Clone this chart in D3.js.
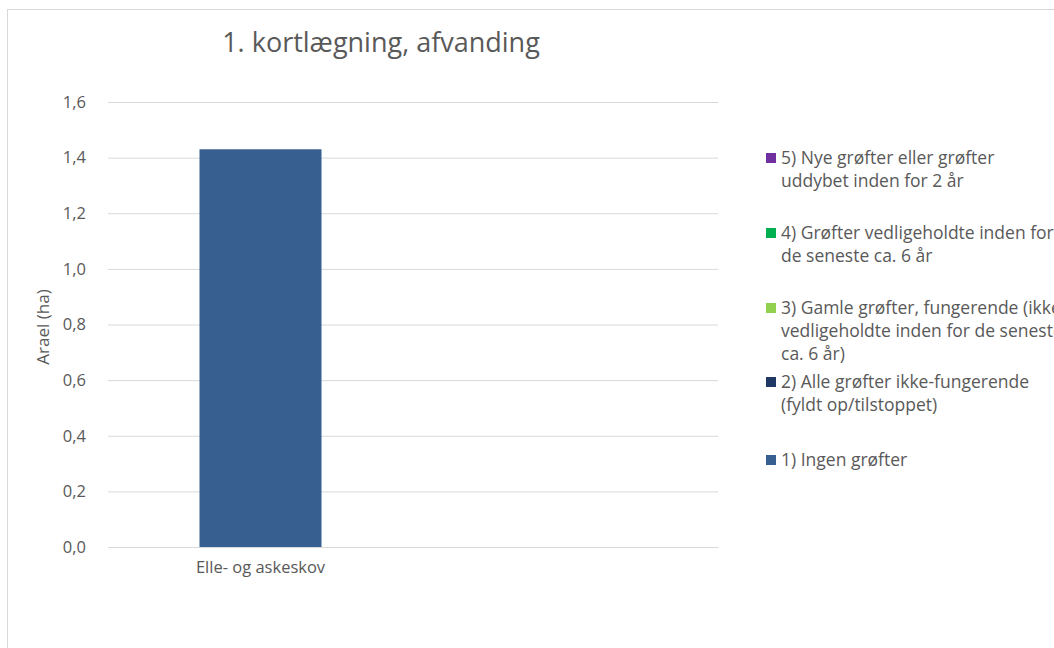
<!DOCTYPE html>
<html><head><meta charset="utf-8">
<script src="https://cdn.jsdelivr.net/npm/d3@7"></script>
<style>body{margin:0;background:#fff}svg{display:block}text{font-family:"Open Sans","Noto Sans",sans-serif}</style>
</head><body><svg id="c" width="1054" height="648"></svg>
<script>
const categories = ["Elle- og askeskov", ""];
const seriesNames = ["1) Ingen grøfter", "2) Alle grøfter ikke-fungerende (fyldt op/tilstoppet)", "3) Gamle grøfter, fungerende (ikke vedligeholdte inden for de seneste ca. 6 år)", "4) Grøfter vedligeholdte inden for de seneste ca. 6 år", "5) Nye grøfter eller grøfter uddybet inden for 2 år"];
const legendLines = [["1) Ingen grøfter"], ["2) Alle grøfter ikke-fungerende", "(fyldt op/tilstoppet)"], ["3) Gamle grøfter, fungerende (ikke", "vedligeholdte inden for de seneste", "ca. 6 år)"], ["4) Grøfter vedligeholdte inden for", "de seneste ca. 6 år"], ["5) Nye grøfter eller grøfter", "uddybet inden for 2 år"]];
const seriesColors = ["#375F8F", "#203864", "#92D050", "#00B050", "#7030A0"];
const s1 = [1.43, 0];
const s2 = [0, 0];
const s3 = [0, 0];
const s4 = [0, 0];
const s5 = [0, 0];
const yTicks = [0, 0.2, 0.4, 0.6, 0.8, 1.0, 1.2, 1.4, 1.6];
const title = "1. kortlægning, afvanding";
const yLabel = "Arael (ha)";

const svg = d3.select("#c");
svg.append("rect").attr("x", 7.5).attr("y", 9.5).attr("width", 1100).attr("height", 700)
  .attr("fill", "#fff").attr("stroke", "#d9d9d9");

const pLeft = 108, pRight = 718, pTop = 102, pBottom = 547;
const x = d3.scaleBand().domain(categories).range([pLeft, pRight]).paddingInner(0.6).paddingOuter(0.3);
const y = d3.scaleLinear().domain([0, 1.6]).range([pBottom, pTop]);

const fmt = d => d.toFixed(1).replace(".", ",");
const yAxis = svg.append("g").attr("transform", `translate(${pLeft},0)`)
  .call(d3.axisLeft(y).tickValues(yTicks).tickFormat(fmt).tickSize(-(pRight - pLeft)).tickPadding(22));
yAxis.select(".domain").remove();
yAxis.selectAll(".tick line").attr("stroke", "#d9d9d9");
yAxis.selectAll(".tick text").attr("fill", "#595959").attr("font-size", 16.5);

const table = categories.map((c, i) => ({cat: c, s0: s1[i], s1: s2[i], s2: s3[i], s3: s4[i], s4: s5[i]}));
const stack = d3.stack().keys(["s0", "s1", "s2", "s3", "s4"])(table);
svg.append("g").selectAll("g").data(stack).join("g").attr("fill", (d, i) => seriesColors[i])
  .selectAll("rect").data(d => d).join("rect")
  .attr("x", d => x(d.data.cat)).attr("width", x.bandwidth())
  .attr("y", d => y(d[1])).attr("height", d => y(d[0]) - y(d[1]));

const xAxis = svg.append("g").attr("transform", `translate(0,${pBottom})`)
  .call(d3.axisBottom(x).tickSize(0).tickPadding(14));
xAxis.select(".domain").attr("stroke", "#d9d9d9");
xAxis.selectAll(".tick text").attr("fill", "#595959").attr("font-size", 16.5);

svg.append("text").attr("x", 381).attr("y", 52).attr("text-anchor", "middle")
  .attr("font-size", 27).attr("fill", "#595959").text(title);

svg.append("text").attr("transform", "translate(49,327) rotate(-90)").attr("text-anchor", "middle")
  .attr("font-size", 17).attr("fill", "#595959").text(yLabel);

const legendOrder = [4, 3, 2, 1, 0];
const legendY = [158, 233, 308, 382, 460];
legendOrder.forEach((si, k) => {
  const g = svg.append("g");
  g.append("rect").attr("x", 766).attr("y", legendY[k] - 5).attr("width", 10).attr("height", 10)
    .attr("fill", seriesColors[si]);
  legendLines[si].forEach((ln, j) => {
    g.append("text").attr("x", 781).attr("y", legendY[k] + j * 23).attr("dy", "0.35em")
      .attr("font-size", 17.5).attr("fill", "#595959").text(ln);
  });
});
</script></body></html>
